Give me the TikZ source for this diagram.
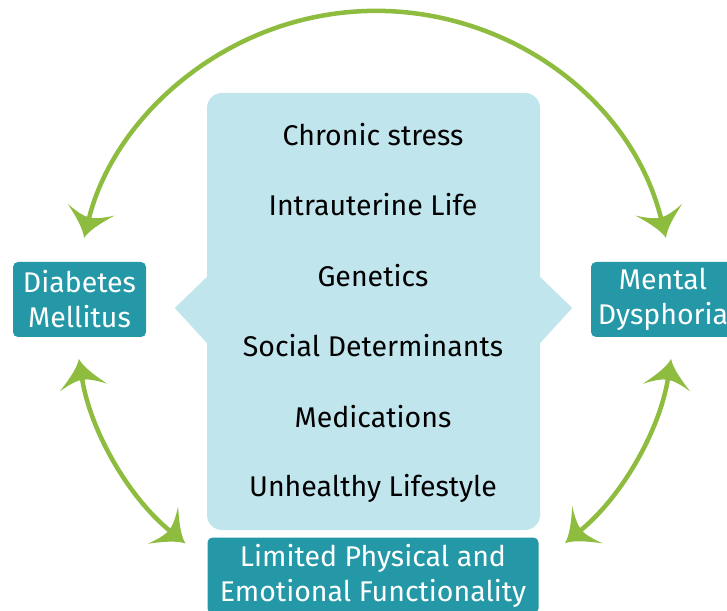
\documentclass[tikz,border=0pt]{standalone}
\usepackage{fontspec}
\setmainfont{Fira Sans}
\usetikzlibrary{arrows.meta}

\definecolor{boxteal}{RGB}{36,152,167}
\definecolor{paleblue}{RGB}{193,229,237}
\definecolor{leafgreen}{RGB}{141,188,63}

% Swept arrow head with concave flanks
\pgfdeclarearrow{
  name = Swoop,
  setup code = {
    \pgfarrowssettipend{0pt}
    \pgfarrowssetlineend{-20pt}
    \pgfarrowssetvisualbackend{-22pt}
    \pgfarrowssetbackend{-29pt}
    \pgfarrowshullpoint{0pt}{0pt}
    \pgfarrowshullpoint{-29pt}{24pt}
    \pgfarrowshullpoint{-29pt}{-24pt}
  },
  drawing code = {
    \pgfpathmoveto{\pgfqpoint{0pt}{0pt}}
    \pgfpathcurveto{\pgfqpoint{-8pt}{3pt}}{\pgfqpoint{-17pt}{11pt}}{\pgfqpoint{-29pt}{24pt}}
    \pgfpathcurveto{\pgfqpoint{-24pt}{14pt}}{\pgfqpoint{-21pt}{6pt}}{\pgfqpoint{-21pt}{0pt}}
    \pgfpathcurveto{\pgfqpoint{-21pt}{-6pt}}{\pgfqpoint{-24pt}{-14pt}}{\pgfqpoint{-29pt}{-24pt}}
    \pgfpathcurveto{\pgfqpoint{-17pt}{-11pt}}{\pgfqpoint{-8pt}{-3pt}}{\pgfqpoint{0pt}{0pt}}
    \pgfpathclose
    \pgfusepathqfill
  }
}

\begin{document}
\begin{tikzpicture}[x=1pt,y=1pt,
  txt/.style={font=\fontsize{28.5}{35}\selectfont, align=center},
  factor/.style={txt, text=black, inner sep=0pt},
  tealbox/.style={txt, fill=boxteal, text=white, rounded corners=5pt, inner sep=0pt},
  panel/.style={fill=paleblue, rounded corners=15pt, inner sep=0pt},
  link/.style={color=leafgreen, line width=4.5pt, {Swoop}-{Swoop}}]

\useasboundingbox (0,0) rectangle (727,610);

% central panel with side tabs
\node[panel, minimum width=333pt, minimum height=437pt] (factors) at (373.5,298.5) {};
\fill[paleblue] ([yshift=34.5pt]factors.west) -- ++(-32,-31) -- ([yshift=-31.5pt]factors.west) -- cycle;
\fill[paleblue] ([yshift=34.5pt]factors.east) -- ++(32,-31) -- ([yshift=-31.5pt]factors.east) -- cycle;

\node[factor] (f1) at (373,475) {Chronic stress};
\node[factor] (f2) at (373,405) {Intrauterine Life};
\node[factor] (f3) at (373,334) {Genetics};
\node[factor] (f4) at (373,264) {Social Determinants};
\node[factor] (f5) at (373,193) {Medications};
\node[factor] (f6) at (373,122) {Unhealthy Lifestyle};

% outcome boxes
\node[tealbox, minimum width=133pt, minimum height=75pt] (dm) at (79.5,310.5) {Diabetes\\Mellitus};
\node[tealbox, minimum width=144pt, minimum height=75pt] (md) at (663,310.5) {Mental\\Dysphoria};
\node[tealbox, minimum width=331pt, minimum height=76pt] (lf) at (373,34.5) {Limited Physical and\\Emotional Functionality};

% circular links between the outcomes
\coordinate (hub) at (375,299);
\draw[link] ([shift={(14.1:300)}]hub) arc[start angle=14.1, end angle=165.9, radius=300];
\draw[link] ([shift={(189.2:300)}]hub) arc[start angle=189.2, end angle=230.8, radius=300];
\draw[link] ([shift={(309.3:300)}]hub) arc[start angle=309.3, end angle=350.8, radius=300];
\end{tikzpicture}
\end{document}
